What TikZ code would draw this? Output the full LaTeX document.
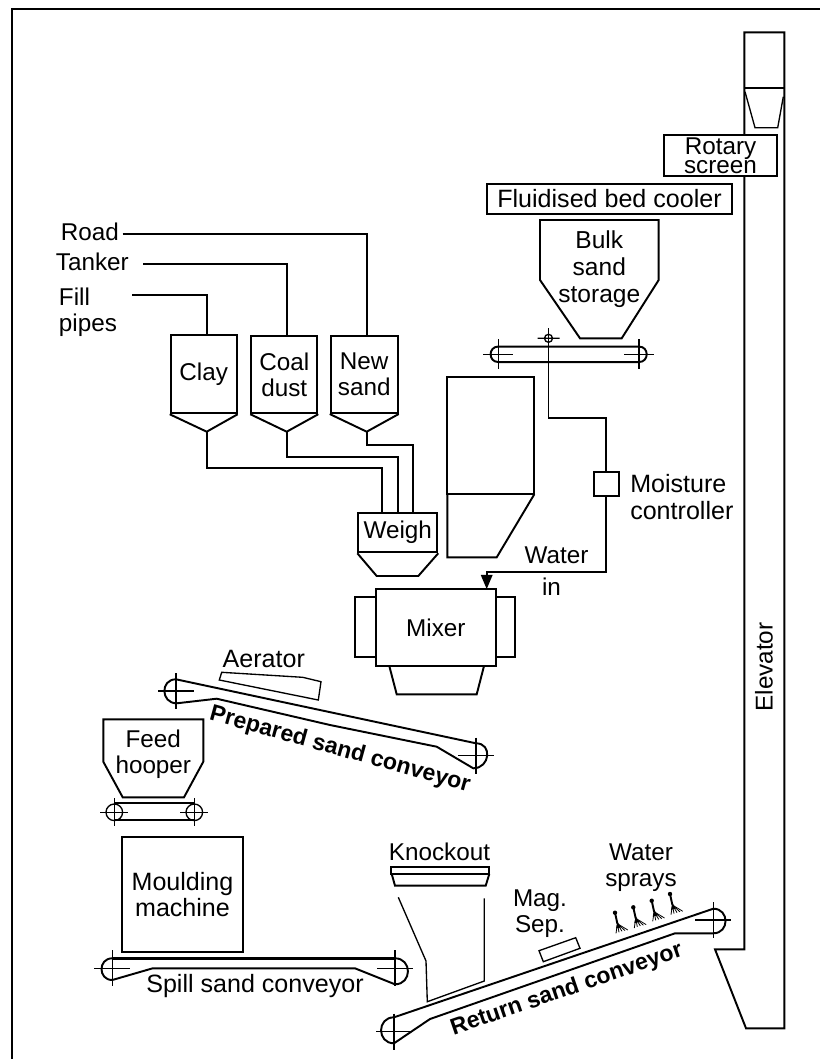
\documentclass[tikz,border=0pt]{standalone}
\usepackage{fontspec}
\setmainfont{Liberation Sans}
\usepackage{tikz}
\usetikzlibrary{arrows}

\newcommand{\pulley}[4]{
  \coordinate (#1) at (#2,#3);
  \draw[thinline] (#1)+(-#4,0) -- +(#4,0) (#1)+(0,-#4) -- +(0,#4);
}
\newcommand{\spray}[3]{
  \coordinate (#1) at (#2,#3);
  \fill (#1) circle (2.2);
  \draw (#1) -- +(2.4,11);
  \fill (#1)+(2.4,9) -- +(1,16) -- +(6,14.5) -- cycle;
  \foreach \dx/\dy in {1/20.7,4/19.6,7/18.6,10/17.9,12.8/17.3}
    \draw[line width=0.6pt] (#1)+(2.4,11) -- +(\dx,\dy);
}

\tikzset{
  plant/.style={line width=1.45pt},
  thinline/.style={line width=1pt},
  boxed/.style={draw,plant,inner sep=0pt,align=center},
  label/.style={inner sep=0pt,align=center},
  widetext/.style={font=\fontsize{18.8}{19.5}\selectfont},
  beltlabel/.style={label,font=\fontsize{17.3}{19.5}\selectfont\bfseries},
}

\begin{document}
\begin{tikzpicture}[x=0.75pt,y=-0.75pt,plant,font=\fontsize{18.2}{19.5}\selectfont,line join=miter]
  \useasboundingbox (0,0) rectangle (820,1059);
  \draw[line width=1.6pt] (12,1059) -- (12,9) -- (820,9);

  % fill pipes and bins
  \node[label,anchor=base west] (road) at (60,240) {Road};
  \node[label,anchor=base west] (tanker) at (55,270.7) {Tanker};
  \node[label,anchor=base west] (fill) at (58,305.7) {Fill};
  \node[label,anchor=base west] (pipes) at (58,331.7) {pipes};
  \node[boxed,minimum width=49.5pt,minimum height=58.5pt] (clay) at (203.7,374.3) {Clay};
  \node[boxed,minimum width=49.5pt,minimum height=58pt] (coal) at (284.3,374.6) {Coal\\dust};
  \node[boxed,minimum width=50.25pt,minimum height=58pt] (newsand) at (364.2,374.4) {New\\sand};
  \coordinate (clayTip) at (206.7,431.7);
  \coordinate (coalTip) at (286.7,431.7);
  \coordinate (newTip) at (366.7,431.7);
  \coordinate (roadEnd) at (122.7,233.7);
  \coordinate (tankerEnd) at (143,264);
  \coordinate (fillEnd) at (132.3,295.3);
  \draw (clay.south west) -- (clayTip) -- (clay.south east);
  \draw (coal.south west) -- (coalTip) -- (coal.south east);
  \draw (newsand.south west) -- (newTip) -- (newsand.south east);
  \draw (roadEnd) -| (newTip |- newsand.north);
  \draw (tankerEnd) -| (coalTip |- coal.north);
  \draw (fillEnd) -| (clayTip |- clay.north);

  % weigh hopper
  \node[boxed,minimum width=59.25pt,minimum height=29.7pt] (weigh) at (397.8,532.5) {Weigh};
  \draw (weigh.south west) -- (376.7,576) -- (418.3,576) -- (weigh.south east);
  \coordinate (weighA) at (381.7,512.7);
  \coordinate (weighB) at (397.7,512.7);
  \coordinate (weighC) at (412.7,512.7);
  \draw (clayTip) -- ++(0,36) -| (weighA);
  \draw (coalTip) -- ++(0,25) -| (weighB);
  \draw (newTip) -- ++(0,13.6) -| (weighC);

  % bin above the mixer
  \draw (447.3,376.7) rectangle (534.3,494.3);
  \draw (447.3,494.3) -- (447.3,557.3) -- (496.7,557.3) -- (534.3,494.3);

  % bulk storage
  \node[boxed,widetext,minimum width=184.2pt,minimum height=22.5pt] (cooler) at (609.5,199) {Fluidised bed cooler};
  \draw (540,220) -- (658.7,220) -- (658.7,280) -- (621.7,338.3) -- (580,338.3) -- (540,280) -- cycle;
  \node[label,font=\fontsize{18.4}{20}\selectfont] (bulk) at (599.3,269) {Bulk\\sand\\storage};
  \pulley{bulkL}{498.3}{354.3}{15}
  \pulley{bulkR}{639}{354.3}{15}
  \draw ([yshift=5.8pt]bulkL) -- ([yshift=5.8pt]bulkR) to[out=0,in=0,looseness=1.7] ([yshift=-5.8pt]bulkR)
    -- ([yshift=-5.8pt]bulkL) to[out=180,in=180,looseness=1.7] ([yshift=5.8pt]bulkL);

  % water line
  \coordinate (valve) at (548.5,338.3);
  \coordinate (valveTop) at (548.5,328);
  \coordinate (waterIn) at (486.7,589);
  \draw[thinline] (valve) circle (4) (valve)+(-11,0) -- +(11,0);
  \node[boxed,minimum width=18.5pt,minimum height=18pt] (moist) at (606.35,483.7) {};
  \draw (valveTop) -- ++(0,90.3) -| (moist.north);
  \draw[-triangle 45] (moist.south) -- ++(0,75.3) -| (waterIn);
  \node[label,widetext,anchor=base west] (moistLabel) at (629.3,492.7) {Moisture};
  \node[label,widetext,anchor=base west] (controller) at (629.3,519.3) {controller};
  \node[label,anchor=base] (water) at (556.5,563.3) {Water};
  \node[label,anchor=base] (waterin) at (551.5,595) {in};

  % mixer
  \node[boxed,minimum width=90pt,minimum height=57.75pt] (mixer) at (435.85,627.5) {Mixer};
  \draw (mixer.west |- 0,597.3) -| (355,657.3) -- (mixer.west |- 0,657.3);
  \draw (mixer.east |- 0,597.3) -| (515,657.3) -- (mixer.east |- 0,657.3);
  \draw (389.3,666) -- (396.7,694.3) -- (476.7,694.3) -- (484,666);

  % prepared sand conveyor
  \pulley{prepL}{176}{691}{18}
  \pulley{prepR}{476}{755.7}{18}
  \draw (176,679.3) -- (476,743.3) to[out=0,in=0,looseness=1.7] (473.3,768.3)
    -- (436.7,746.7) -- (330,725) -- (216.7,698.7) -- (176.7,703.3) to[out=180,in=180,looseness=1.7] (176,679.3);
  \draw[thinline] (221.7,672.3) -- (302.7,677.3) -- (321,681.7) -- (318.3,700) -- (219.3,680) -- cycle;
  \node[label,widetext,anchor=base west] (aerator) at (221.7,667.3) {Aerator};
  \node[beltlabel,rotate=-15.5] (prepared) at (340,750) {Prepared sand conveyor};

  % feed hopper
  \draw (103.3,719.3) -- (203.3,719.3) -- (203.3,761.7) -- (184,797.3) -- (122.7,797.3) -- (103.3,761.7) -- cycle;
  \node[label,anchor=base] (feed) at (153.3,747.3) {Feed};
  \node[label,anchor=base] (hooper) at (153.3,773.3) {hooper};
  \pulley{feedL}{114.3}{812.3}{14}
  \pulley{feedR}{194.3}{812.3}{14}
  \draw[thinline] (feedL) circle (8.3) (feedR) circle (8.3);
  \draw ([yshift=6.7pt]feedL) -- ([yshift=6.7pt]feedR) ([yshift=-5.8pt]feedL) -- ([yshift=-5.8pt]feedR);

  % moulding machine
  \node[boxed,widetext,minimum width=91.2pt,minimum height=86.7pt] (moulding) at (182.5,894.5) {Moulding\\machine};
  \pulley{spillL}{112.3}{968.3}{18}
  \pulley{spillR}{395}{968.3}{18}
  \draw[line width=1.9pt] (112.3,958.3) -- (395,958.3);
  \draw (395,958.3) to[out=0,in=0,looseness=1.7] (395,984.3)
    -- (355,968.3) -- (152.7,968.3) -- (112.3,980) to[out=180,in=180,looseness=1.7] (112.3,958.3);
  \node[label,widetext,anchor=base] (spill) at (255,992.3) {Spill sand conveyor};

  % knockout
  \node[label,anchor=base] (knockout) at (439.5,860) {Knockout};
  \draw (390.7,866.7) rectangle (489.3,874);
  \draw (391.7,874) -- (395,885.7) -- (485.7,885.7) -- (489.3,874);
  \draw[thinline] (398.3,897.3) -- (426,961) -- (427.3,1001.7) -- (484.3,981) -- (484.3,898.3);

  % return sand conveyor
  \pulley{retL}{394}{1031.7}{18}
  \pulley{retR}{713.3}{920}{18}
  \draw (394,1017.3) -- (713.3,908.7) to[out=0,in=0,looseness=1.7] (713.3,933.3)
    -- (675,933.3) -- (430,1019) -- (394,1043.3) to[out=180,in=180,looseness=1.7] (394,1017.3);
  \node[beltlabel,rotate=19] (returnsand) at (566.7,990) {Return sand conveyor};
  \draw[thinline] (539,950.7) -- (575.7,937.7) -- (580,948.3) -- (543.3,961.7) -- cycle;
  \node[label,anchor=base] (mag) at (540,906.7) {Mag.};
  \node[label,anchor=base] (sep) at (540,932.7) {Sep.};
  \node[label,anchor=base] (waterA) at (641,860) {Water};
  \node[label,anchor=base] (sprays) at (641,886.7) {sprays};
  \spray{sprayA}{615}{912.7}
  \spray{sprayB}{633.3}{907.3}
  \spray{sprayC}{651.7}{900.7}
  \spray{sprayD}{670}{894}

  % elevator
  \draw (744.3,949.3) -- (744.3,32.3) -- (784.3,32.3) -- (784.3,1028.3) -- (746,1028.3) -- (715,949.3) -- cycle;
  \draw (744.3,88.3) -- (784.3,88.3);
  \draw[thinline] (745,91.7) -- (755,127.7) -- (777.7,127.7) -- (783.3,96.7);
  \node[boxed,fill=white,minimum width=85.2pt,minimum height=31pt,font=\fontsize{18.2}{14.25}\selectfont] (rotary) at (720.5,155.35) {Rotary\\screen};
  \node[label,rotate=90] (elevator) at (764,667) {Elevator};
\end{tikzpicture}
\end{document}
